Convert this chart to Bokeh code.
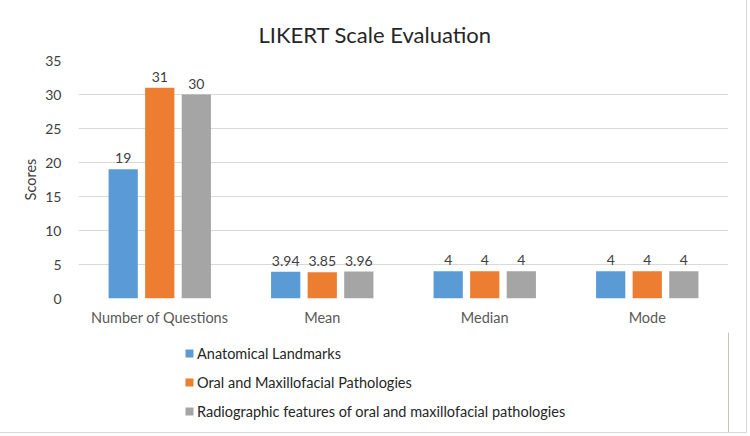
from bokeh.plotting import figure
from bokeh.layouts import column
from bokeh.models import ColumnDataSource, FactorRange, Legend, LegendItem, LabelSet, Range1d, FixedTicker
from bokeh.core.properties import value
from bokeh.transform import dodge
from bokeh.embed import file_html
from bokeh.resources import INLINE

categories = ["Number of Questions", "Mean", "Median", "Mode"]
series_names = ["Anatomical Landmarks", "Oral and Maxillofacial Pathologies",
                "Radiographic features of oral and maxillofacial pathologies"]
anatomical = [19, 3.94, 4, 4]
oral_patho = [31, 3.85, 4, 4]
radiographic = [30, 3.96, 4, 4]
colors = ["#5B9BD5", "#ED7D31", "#A5A5A5"]
y_ticks = [0, 5, 10, 15, 20, 25, 30, 35]

def fmt(v):
    return ("%g" % v)

src = ColumnDataSource(dict(
    cat=categories,
    a=anatomical, b=oral_patho, c=radiographic,
    at=[fmt(v) for v in anatomical],
    bt=[fmt(v) for v in oral_patho],
    ct=[fmt(v) for v in radiographic],
))

FONT = "Lato"
TXT = "#595959"

p = figure(x_range=FactorRange(*categories), y_range=Range1d(0, 35),
           width=746, height=332, output_backend="svg", toolbar_location=None,
           min_border_left=78, min_border_right=18, min_border_top=60, min_border_bottom=34)

p.title.text = "LIKERT Scale Evaluation"
p.title.align = "left"
p.title.text_font = FONT
p.title.text_font_size = "22px"
p.title.text_font_style = "normal"
p.title.text_color = "#262626"
p.title.offset = 180
p.title.standoff = 26

keys = ["a", "b", "c"]
tkeys = ["at", "bt", "ct"]
offs = [-0.225, 0.0, 0.225]
for k, tk, off, col in zip(keys, tkeys, offs, colors):
    p.vbar(x=dodge("cat", off, range=p.x_range), top=k, width=0.18, source=src,
           fill_color=col, line_color=None)
    lbl = LabelSet(x=dodge("cat", off, range=p.x_range), y=k, text=tk, source=src,
                   text_align="center", text_baseline="bottom", y_offset=6,
                   text_font_size=value("14px"), text_color=value("#404040"),
                   text_font=value(FONT))
    p.add_layout(lbl)

p.yaxis.ticker = FixedTicker(ticks=y_ticks)
p.yaxis.axis_label = "Scores"
p.yaxis.axis_label_text_font = FONT
p.yaxis.axis_label_text_font_style = "normal"
p.yaxis.axis_label_text_font_size = "14.5px"
p.yaxis.axis_label_text_color = "#404040"
p.yaxis.axis_label_standoff = 3
for ax in (p.xaxis, p.yaxis):
    ax.axis_line_color = None
    ax.major_tick_line_color = None
    ax.minor_tick_line_color = None
    ax.major_label_text_font = FONT
    ax.major_label_text_color = TXT
p.xaxis.major_label_text_font_size = "14.5px"
p.yaxis.major_label_text_font_size = "14px"
p.yaxis.major_label_text_color = "#404040"
p.xaxis.major_label_standoff = 4
p.yaxis.major_label_standoff = 11

p.xgrid.grid_line_color = None
p.ygrid.grid_line_color = "#D9D9D9"
p.outline_line_color = None

# legend panel below the chart (legend proxies sit outside the visible range)
lg = figure(width=746, height=100, output_backend="svg", toolbar_location=None,
            x_range=Range1d(0, 1), y_range=Range1d(0, 1),
            min_border=0, min_border_left=0, min_border_right=0, min_border_top=0, min_border_bottom=0)
lg.axis.visible = False
lg.grid.grid_line_color = None
lg.outline_line_color = None
proxy = ColumnDataSource(dict(x=[5], top=[5]))
leg_renderers = [lg.vbar(x="x", top="top", width=0.1, source=proxy, fill_color=c, line_color=None)
                 for c in colors]
legend = Legend(items=[LegendItem(label=n, renderers=[r]) for n, r in zip(series_names, leg_renderers)],
                location=(106, 11), orientation="vertical",
                glyph_width=10, glyph_height=10, label_height=20, spacing=9,
                label_text_font=FONT, label_text_font_size="14.5px", label_text_color="#262626",
                background_fill_alpha=0, border_line_color=None, padding=0, margin=0,
                label_standoff=3)
lg.add_layout(legend)

layout = column(p, lg, spacing=0)
layout.styles = {"border-right": "1px solid #D9D9D9", "border-bottom": "1px solid #D9D9D9"}

open("out.html", "w").write(file_html(layout, INLINE))
